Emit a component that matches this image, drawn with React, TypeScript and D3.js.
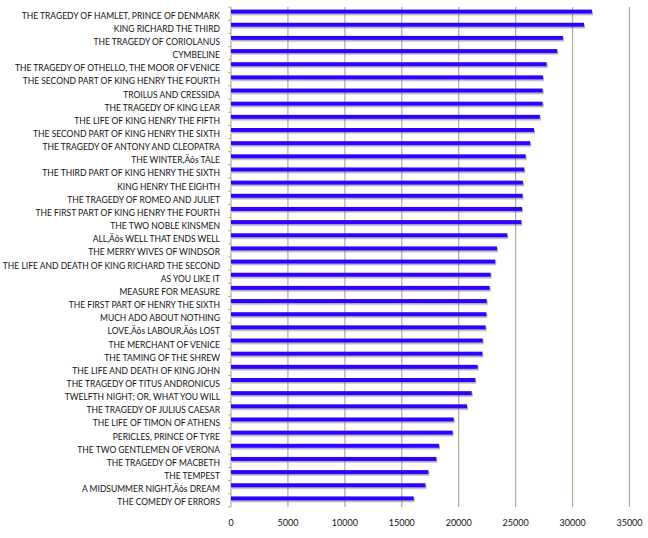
import React from "react";
import * as d3 from "d3";

const plays: string[] = [
  "THE TRAGEDY OF HAMLET, PRINCE OF DENMARK",
  "KING RICHARD THE THIRD",
  "THE TRAGEDY OF CORIOLANUS",
  "CYMBELINE",
  "THE TRAGEDY OF OTHELLO, THE MOOR OF VENICE",
  "THE SECOND PART OF KING HENRY THE FOURTH",
  "TROILUS AND CRESSIDA",
  "THE TRAGEDY OF KING LEAR",
  "THE LIFE OF KING HENRY THE FIFTH",
  "THE SECOND PART OF KING HENRY THE SIXTH",
  "THE TRAGEDY OF ANTONY AND CLEOPATRA",
  "THE WINTER,Äôs TALE",
  "THE THIRD PART OF KING HENRY THE SIXTH",
  "KING HENRY THE EIGHTH",
  "THE TRAGEDY OF ROMEO AND JULIET",
  "THE FIRST PART OF KING HENRY THE FOURTH",
  "THE TWO NOBLE KINSMEN",
  "ALL,Äôs WELL THAT ENDS WELL",
  "THE MERRY WIVES OF WINDSOR",
  "THE LIFE AND DEATH OF KING RICHARD THE SECOND",
  "AS YOU LIKE IT",
  "MEASURE FOR MEASURE",
  "THE FIRST PART OF HENRY THE SIXTH",
  "MUCH ADO ABOUT NOTHING",
  "LOVE,Äôs LABOUR,Äôs LOST",
  "THE MERCHANT OF VENICE",
  "THE TAMING OF THE SHREW",
  "THE LIFE AND DEATH OF KING JOHN",
  "THE TRAGEDY OF TITUS ANDRONICUS",
  "TWELFTH NIGHT; OR, WHAT YOU WILL",
  "THE TRAGEDY OF JULIUS CAESAR",
  "THE LIFE OF TIMON OF ATHENS",
  "PERICLES, PRINCE OF TYRE",
  "THE TWO GENTLEMEN OF VERONA",
  "THE TRAGEDY OF MACBETH",
  "THE TEMPEST",
  "A MIDSUMMER NIGHT,Äôs DREAM",
  "THE COMEDY OF ERRORS",
];

const wordCounts: number[] = [
  31700, 31000, 29150, 28650, 27720, 27400, 27370, 27370, 27130, 26610,
  26280, 25880, 25760, 25640, 25610, 25560, 25500, 24270, 23360, 23210,
  22810, 22720, 22460, 22430, 22370, 22110, 22080, 21670, 21460, 21140,
  20730, 19560, 19470, 18280, 18040, 17340, 17080, 16050,
];

const xTicks: number[] = [0, 5000, 10000, 15000, 20000, 25000, 30000, 35000];

export default function App() {
  const width = 648;
  const height = 538;
  const left = 231;
  const right = 629.5;
  const top = 7;
  const bottom = 507;

  const x = d3.scaleLinear().domain([0, 35000]).range([left, right]);
  const y = d3.scaleBand<string>().domain(plays).range([top, bottom]).padding(0);
  const bw = y.bandwidth();
  const gridColor = "#b3ab94";
  const font = "Lato, 'Liberation Sans', sans-serif";

  return (
    <svg
      width={width}
      height={height}
      style={{ position: "absolute", left: 0, top: 0, display: "block", background: "#fff" }}
    >
      <defs>
        <filter id="shadow" x="-5%" y="-100%" width="110%" height="400%">
          <feDropShadow dx="1" dy="1.6" stdDeviation="0.7" floodColor="#4a4a6a" floodOpacity="0.45" />
        </filter>
      </defs>
      {/* gridlines */}
      {xTicks.map((t) => (
        <line
          key={"g" + t}
          x1={x(t)}
          x2={x(t)}
          y1={top}
          y2={bottom}
          stroke={gridColor}
          strokeWidth={1.2}
        />
      ))}
      {/* y-axis ticks */}
      {d3.range(plays.length + 1).map((i) => (
        <line
          key={"yt" + i}
          x1={left - 3}
          x2={left}
          y1={top + i * bw}
          y2={top + i * bw}
          stroke={gridColor}
          strokeWidth={1}
        />
      ))}
      {/* bars */}
      {plays.map((p, i) => {
        const cy = (y(p) as number) + bw / 2;
        return (
          <rect
            key={"b" + i}
            x={x(0)}
            y={cy - 4}
            width={x(wordCounts[i]) - x(0)}
            height={4}
            fill="#3300ff"
            filter="url(#shadow)"
          />
        );
      })}
      {/* category labels */}
      {plays.map((p, i) => {
        const cy = (y(p) as number) + bw / 2;
        return (
          <text
            key={"l" + i}
            x={220}
            y={cy + 5}
            textAnchor="end"
            fontFamily={font}
            fontSize={8.5}
            fill="#111"
          >
            {p}
          </text>
        );
      })}
      {/* x tick labels */}
      {xTicks.map((t) => (
        <text
          key={"xl" + t}
          x={x(t)}
          y={526}
          textAnchor="middle"
          fontFamily={font}
          fontSize={9}
          fill="#111"
        >
          {t}
        </text>
      ))}
    </svg>
  );
}
